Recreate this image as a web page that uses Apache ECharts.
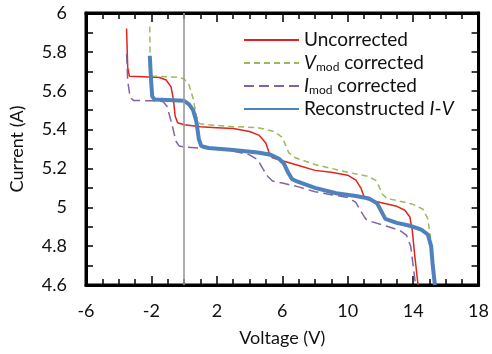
<!DOCTYPE html>
<html>
<head>
<meta charset="utf-8">
<script src="https://cdn.jsdelivr.net/npm/echarts@6/dist/echarts.min.js"></script>
<style>
  html, body { margin: 0; padding: 0; background: #fff; }
  #chart { width: 492px; height: 354px; }
</style>
</head>
<body>
<div id="chart"></div>
<script>
// 数据：各曲线的电压 / 电流
const uncorrectedV = [-3.52, -3.45, -3.35, -2.5, -1.5, -1.1, -0.8, -0.65, -0.55, -0.4, 0, 1, 2, 3, 4, 4.6, 5.0, 5.2, 5.4, 6, 7, 8, 9, 10, 10.5, 10.8, 11.0, 11.2, 12, 13, 13.5, 13.8, 13.95, 14.1, 14.3]
const uncorrectedI = [5.92, 5.72, 5.675, 5.672, 5.668, 5.655, 5.62, 5.55, 5.47, 5.435, 5.425, 5.415, 5.41, 5.405, 5.39, 5.37, 5.33, 5.28, 5.255, 5.24, 5.215, 5.19, 5.18, 5.165, 5.14, 5.1, 5.055, 5.04, 5.025, 5.005, 4.985, 4.95, 4.88, 4.75, 4.6]

const vmodV = [-2.1, -2.08, -2.05, -1, -0.3, 0, 0.3, 0.55, 0.75, 0.95, 1.5, 3, 4.5, 5.5, 6.0, 6.2, 6.4, 6.8, 8, 10, 11.2, 11.7, 11.9, 12.1, 12.4, 13, 14, 14.6, 14.9, 15.05, 15.15, 15.3]
const vmodI = [5.93, 5.75, 5.675, 5.672, 5.668, 5.66, 5.63, 5.56, 5.47, 5.43, 5.425, 5.415, 5.41, 5.39, 5.36, 5.32, 5.28, 5.255, 5.22, 5.18, 5.16, 5.14, 5.11, 5.07, 5.045, 5.035, 5.015, 4.99, 4.94, 4.85, 4.75, 4.6]

const imodV = [-3.52, -3.45, -3.3, -3.1, -2, -1.3, -1.05, -0.85, -0.7, -0.5, -0.3, 0, 1, 2, 3, 4, 4.5, 4.8, 5.1, 5.4, 6, 7, 8, 9, 10, 10.5, 10.8, 11.1, 11.5, 12.5, 13.2, 13.6, 13.85, 14.0, 14.15]
const imodI = [5.79, 5.65, 5.565, 5.55, 5.548, 5.545, 5.52, 5.46, 5.41, 5.34, 5.315, 5.31, 5.305, 5.3, 5.29, 5.27, 5.245, 5.2, 5.16, 5.135, 5.125, 5.105, 5.08, 5.065, 5.05, 5.025, 4.98, 4.94, 4.925, 4.9, 4.88, 4.855, 4.8, 4.7, 4.6]

const reconV = [-2.1, -2.02, -1.95, -1.8, -1, 0, 0.3, 0.55, 0.75, 0.9, 1.05, 1.5, 3, 4.5, 5.3, 5.8, 6.1, 6.35, 6.6, 6.9, 8, 9.3, 10.5, 11.3, 11.8, 12.05, 12.3, 13, 13.8, 14.5, 14.9, 15.1, 15.2, 15.33]
const reconI = [5.78, 5.65, 5.57, 5.555, 5.552, 5.548, 5.53, 5.5, 5.44, 5.35, 5.315, 5.305, 5.295, 5.282, 5.27, 5.25, 5.225, 5.18, 5.145, 5.133, 5.1, 5.072, 5.058, 5.045, 5.02, 4.98, 4.94, 4.92, 4.905, 4.885, 4.86, 4.8, 4.7, 4.6]

// 参考竖线 (0 V)
const zeroVoltage = 0
// 坐标轴刻度
const xMin = -6, xMax = 18, xStep = 4
const yMin = 4.6, yMax = 6, yStep = 0.2

const seriesNames = ['Uncorrected', 'Vmod corrected', 'Imod corrected', 'Reconstructed I-V']
const legendText = {
  'Uncorrected': 'Uncorrected',
  'Vmod corrected': '{it|V}{sub|mod} corrected',
  'Imod corrected': '{it|I}{sub|mod} corrected',
  'Reconstructed I-V': 'Reconstructed {it|I}-{it|V}'
}

const zip = (xs, ys) => xs.map((x, i) => [x, ys[i]])

const font = 'Lato, "Open Sans", sans-serif'
const chart = echarts.init(document.getElementById('chart'))

const baseSeries = (name, v, i, color, width, type) => ({
  name: name,
  type: 'line',
  data: zip(v, i),
  symbol: 'none',
  smooth: false,
  lineStyle: { color: color, width: width, type: type },
  itemStyle: { color: color },
  xAxisIndex: 0,
  yAxisIndex: 0
})

const s0 = baseSeries(seriesNames[0], uncorrectedV, uncorrectedI, '#e2231a', 1.5, 'solid')
s0.markLine = {
  silent: true,
  symbol: 'none',
  label: { show: false },
  lineStyle: { color: '#9a9a9a', width: 1.6, type: 'solid' },
  data: [{ xAxis: zeroVoltage }]
}

// 外框四边的刻度
const axisCommon = {
  axisLine: { show: true, onZero: false, lineStyle: { color: '#000', width: 3 } },
  splitLine: { show: false }
}
const xTicks = {
  axisTick: { show: true, inside: true, length: 9, lineStyle: { color: '#000', width: 1.5 } },
  minorTick: { show: true, splitNumber: 4, length: 6, lineStyle: { color: '#000', width: 1.5 } }
}
const yTicks = {
  axisTick: { show: true, inside: true, length: 7, lineStyle: { color: '#000', width: 1.5 } },
  minorTick: { show: true, splitNumber: 2, length: 7, lineStyle: { color: '#000', width: 1.5 } }
}

const option = {
  animation: false,
  textStyle: { fontFamily: font },
  grid: { left: 82, right: 11, top: 13, bottom: 69, show: true, borderColor: '#000', borderWidth: 3 },
  legend: {
    orient: 'vertical',
    left: 238,
    top: 25,
    itemWidth: 55,
    itemHeight: 14,
    itemGap: 3,
    data: seriesNames,
    itemStyle: { opacity: 0 },
    formatter: (name) => legendText[name],
    textStyle: {
      fontFamily: font,
      fontSize: 19,
      lineHeight: 20,
      color: '#111',
      rich: {
        it: { fontFamily: font, fontSize: 19, lineHeight: 20, fontStyle: 'italic', color: '#111' },
        sub: { fontFamily: font, fontSize: 12, lineHeight: 20, color: '#111', verticalAlign: 'bottom', padding: [5, 0, 0, 0] }
      }
    }
  },
  xAxis: [
    Object.assign({
      type: 'value', min: xMin, max: xMax, interval: xStep,
      name: 'Voltage (V)', nameLocation: 'middle', nameGap: 44,
      nameTextStyle: { fontFamily: font, fontSize: 18, color: '#111' },
      axisLabel: { fontFamily: font, fontSize: 18, color: '#111', margin: 17 }
    }, axisCommon, xTicks),
    Object.assign({
      type: 'value', min: xMin, max: xMax, interval: xStep, position: 'top',
      axisLabel: { show: false }
    }, axisCommon, xTicks)
  ],
  yAxis: [
    Object.assign({
      type: 'value', min: yMin, max: yMax, interval: yStep,
      name: 'Current (A)', nameLocation: 'middle', nameGap: 60, nameRotate: 90,
      nameTextStyle: { fontFamily: font, fontSize: 18, color: '#111' },
      axisLabel: { fontFamily: font, fontSize: 18, color: '#111', margin: 19 }
    }, axisCommon, yTicks),
    Object.assign({
      type: 'value', min: yMin, max: yMax, interval: yStep, position: 'right',
      axisLabel: { show: false }
    }, axisCommon, yTicks)
  ],
  series: [
    s0,
    baseSeries(seriesNames[1], vmodV, vmodI, '#9bbb59', 1.5, [6, 4]),
    baseSeries(seriesNames[2], imodV, imodI, '#8064a2', 1.5, [10, 5]),
    baseSeries(seriesNames[3], reconV, reconI, '#4f81bd', 4, 'solid')
  ]
}
chart.setOption(option)
</script>
</body>
</html>
